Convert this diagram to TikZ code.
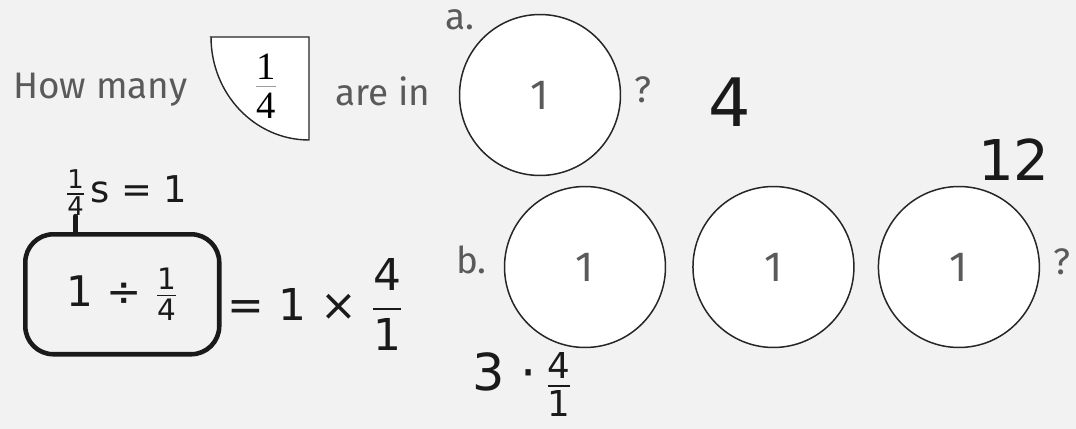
\RequirePackage{fix-cm}
\documentclass[tikz,border=0pt]{standalone}
\usepackage{amsmath}
\usepackage{fontspec}
\setmainfont{Fira Sans}
\newfontfamily\handfont{DejaVu Sans}
\newfontfamily\printfont{Liberation Serif}
\usetikzlibrary{positioning,calc}
\definecolor{pagebg}{HTML}{F2F2F2}
\definecolor{inkgray}{HTML}{5A5A5A}
\definecolor{inkdark}{HTML}{262626}
\definecolor{marker}{HTML}{1A1A1A}
\newcommand{\hfr}[2]{$\frac{\text{#1}}{\text{#2}}$}
\newcommand{\hdfr}[2]{$\dfrac{\text{#1}}{\text{#2}}$}
\tikzset{
  prompt/.style={font=\fontsize{21}{24}\selectfont, text=inkgray, inner sep=0pt},
  whole/.style={circle, draw=inkdark, line width=0.85pt, fill=white,
    minimum size=3.22cm, inner sep=0pt,
    font=\fontsize{24}{28}\selectfont, text=inkgray},
  quarter/.style={draw=inkdark, line width=0.8pt, fill=white},
  printed/.style={font=\printfont\fontsize{22}{24}\selectfont, inner sep=0pt},
  hand/.style={font=\handfont\fontsize{#1}{#1}\selectfont, text=marker, inner sep=0pt},
  handbox/.style={draw=marker, line width=2.6pt, rounded corners=16pt,
    minimum width=3.88cm, minimum height=2.4cm, inner sep=0pt},
  handline/.style={draw=marker, line width=2.6pt, line cap=round}
}
\begin{document}
\begin{tikzpicture}[x=0.02cm, y=0.02cm]
  \useasboundingbox (0,0) rectangle (1076,-429);
  \fill[pagebg] (0,0) rectangle (1076,-429);

  % question a
  \node[prompt, anchor=base west] (howmany) at (13,-99) {How many};
  \draw[quarter] (211,-37) -- (309,-37) -- (309,-140)
    arc[start angle=-90, end angle=-180, x radius=1.96cm, y radius=2.06cm] -- cycle;
  \node[printed] (qnum) at (266,-67) {1};
  \node[printed] (qden) at (266,-106) {4};
  \draw[inkgray!60, line width=0.6pt]
    ($(qnum.south west)!0.5!(qden.north west)$) -- ($(qnum.south east)!0.5!(qden.north east)$);
  \node[prompt, anchor=base west] (arein) at (335,-106) {are in};
  \node[whole] (wholeA) at (540,-95) {1};
  \node[prompt, anchor=base west] (labA) at (445,-30) {a.};
  \node[prompt, right=0.26cm of wholeA, yshift=0.1cm] (qA) {?};
  \node[hand=38] (ansA) at (730,-102) {4};

  % question b
  \node[whole] (wholeB1) at (585,-267) {1};
  \node[whole, right=0.52cm of wholeB1] (wholeB2) {1};
  \node[whole, right=0.46cm of wholeB2] (wholeB3) {1};
  \node[prompt, anchor=base east] (labB) at (487,-274) {b.};
  \node[prompt, right=0.26cm of wholeB3, yshift=0.1cm] (qB) {?};
  \node[hand=32] (ansB) at (1014,-160) {12};

  % worked steps
  \node[hand=21, anchor=base west] (qfrac) at (65,-203) {\hfr{1}{4}};
  \node[hand=21, base right=2pt of qfrac] (qeq) {s = 1};
  \node[hand=24, handbox, anchor=north west] (divbox) at (23,-232) {1 ÷ \hfr{1}{4}};
  \node[hand=25, right=0.12cm of divbox, yshift=-0.2cm] (workA) {= 1 × \hdfr{4}{1}};
  \node[hand=29, anchor=base west] (workB) at (472,-390) {3 ·\,\raisebox{-5pt}{\hfr{4}{1}}};
  \draw[handline] (qfrac.south) -- (qfrac.south |- divbox.north);
\end{tikzpicture}
\end{document}
